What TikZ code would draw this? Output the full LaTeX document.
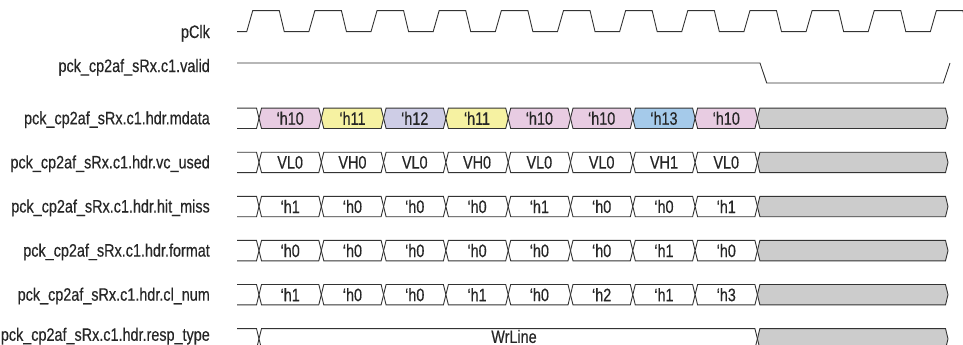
\documentclass[tikz,border=0pt]{standalone}
\usepackage{fontspec}
\setmainfont{Liberation Sans}[FakeStretch=0.8, FakeBold=0.4]
\definecolor{lc}{HTML}{333333}
\definecolor{cpink}{HTML}{E8CCE2}
\definecolor{cyel}{HTML}{F6F2A2}
\definecolor{clav}{HTML}{CECDE6}
\definecolor{cblue}{HTML}{A5CAEA}
\definecolor{cgray}{HTML}{CCCCCC}
\tikzset{
  sig/.style={draw=lc, line width=0.9pt, line join=miter},
  lab/.style={anchor=base east, inner sep=0pt, text=black!85, font=\fontsize{18}{21}\selectfont},
  val/.style={inner sep=0pt, text=black!85, font=\fontsize{18}{21}\selectfont},
}
\newcommand{\busseg}[6]{% name, x1, x2, yc, fill, text
  \filldraw[sig, fill=#5] (#2,#4) -- ({#2+2.5},{#4-10.2}) -- ({#3-2.5},{#4-10.2}) -- (#3,#4) -- ({#3-2.5},{#4+10.2}) -- ({#2+2.5},{#4+10.2}) -- cycle;
  \node[val] (#1) at ({(#2+#3)/2},#4) {#6};
}
\newcommand{\busstart}[1]{%
  \draw[sig] (237,{#1-10.2}) -- (256.5,{#1-10.2}) -- (259,#1) -- (256.5,{#1+10.2}) -- (237,{#1+10.2});
}
\newcommand{\busrow}[3]{% prefix, yc, list
  \busstart{#2}
  \foreach \f/\t [count=\i from 0] in {#3} {
    \pgfmathsetmacro{\xa}{259+62.3*\i}
    \pgfmathsetmacro{\xb}{\xa+62.3}
    \busseg{#1\i}{\xa}{\xb}{#2}{\f}{\t}
  }
  \busseg{#1g}{757.4}{948}{#2}{cgray}{}
}
\begin{document}
\begin{tikzpicture}[x=1pt,y=-1pt]
\useasboundingbox (0,0) rectangle (963,345);
\clip (0,0) rectangle (963,345);
% labels
\node[lab] (l1) at (210,38) {pClk};
\node[lab] (l2) at (210,72) {pck\_cp2af\_sRx.c1.valid};
\node[lab] (l3) at (210,124.3) {pck\_cp2af\_sRx.c1.hdr.mdata};
\node[lab] (l4) at (210,168.4) {pck\_cp2af\_sRx.c1.hdr.vc\_used};
\node[lab] (l5) at (210,212.5) {pck\_cp2af\_sRx.c1.hdr.hit\_miss};
\node[lab] (l6) at (210,256.6) {pck\_cp2af\_sRx.c1.hdr.format};
\node[lab] (l7) at (210,300.7) {pck\_cp2af\_sRx.c1.hdr.cl\_num};
\node[lab] (l8) at (210,340.8) {pck\_cp2af\_sRx.c1.hdr.resp\_type};
% clock
\draw[sig] (237,31.7) foreach \k in {0,...,11} {
  -- ({246.7+62.15*\k},31.7) -- ({252.7+62.15*\k},10.7)
  -- ({279.3+62.15*\k},10.7) -- ({284.3+62.15*\k},31.7) };
% valid
\draw[sig] (237,63) -- (760,63) -- (766.7,83) -- (943.3,83) -- (950,63);
% buses
\busrow{md}{118.3}{cpink/‘h10, cyel/‘h11, clav/‘h12, cyel/‘h11, cpink/‘h10, cpink/‘h10, cblue/‘h13, cpink/‘h10}
\busrow{vc}{162.4}{white/VL0, white/VH0, white/VL0, white/VH0, white/VL0, white/VL0, white/VH1, white/VL0}
\busrow{hm}{206.5}{white/‘h1, white/‘h0, white/‘h0, white/‘h0, white/‘h1, white/‘h0, white/‘h0, white/‘h1}
\busrow{fm}{250.6}{white/‘h0, white/‘h0, white/‘h0, white/‘h0, white/‘h0, white/‘h0, white/‘h1, white/‘h0}
\busrow{cn}{294.7}{white/‘h1, white/‘h0, white/‘h0, white/‘h1, white/‘h0, white/‘h2, white/‘h1, white/‘h3}
% resp_type
\busstart{338.8}
\filldraw[sig, fill=white] (259,338.8) -- (261.5,328.6) -- (754.9,328.6) -- (757.4,338.8) -- (754.9,349) -- (261.5,349) -- cycle;
\node[val] (rt0) at (514,336.5) {WrLine};
\busseg{rtg}{757.4}{948}{338.8}{cgray}{}
\end{tikzpicture}
\end{document}
